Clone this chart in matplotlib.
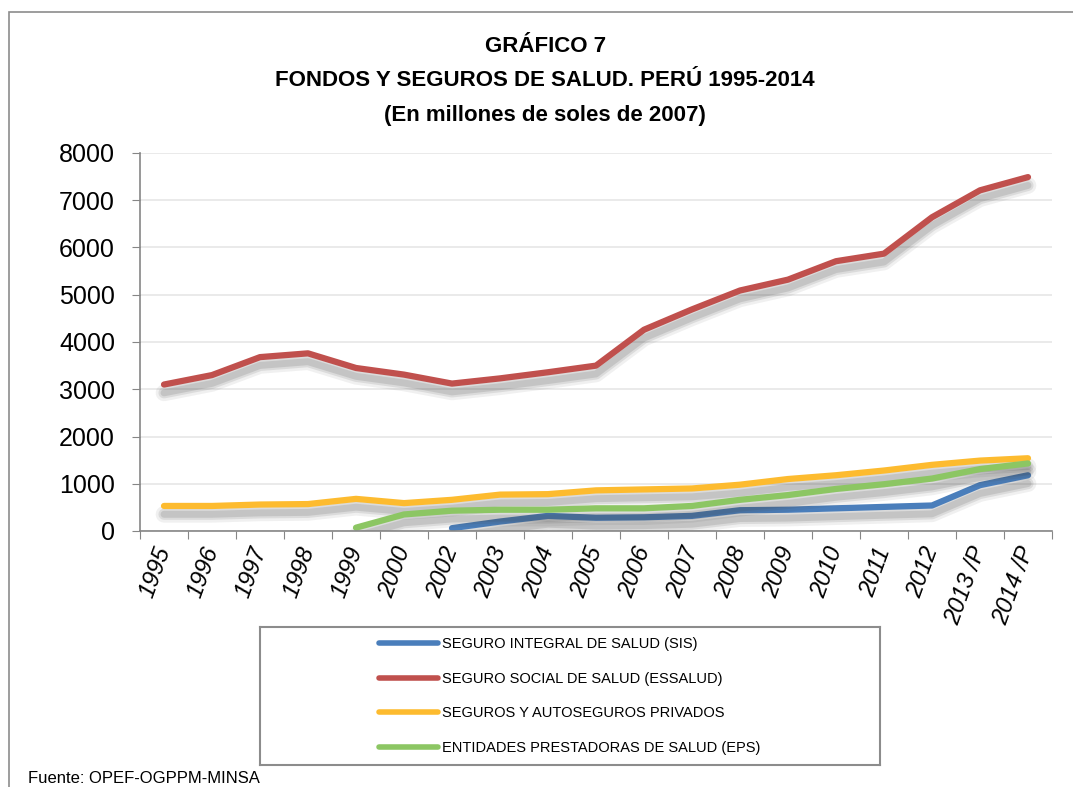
import matplotlib.pyplot as plt
import matplotlib.patheffects as pe
from matplotlib.patches import Rectangle
import numpy as np

plt.rcParams['font.family'] = ['Liberation Sans', 'DejaVu Sans']

# categorías (2001 no aparece en el gráfico)
anios = ['1995', '1996', '1997', '1998', '1999', '2000', '2002', '2003', '2004', '2005',
         '2006', '2007', '2008', '2009', '2010', '2011', '2012', '2013 /P', '2014 /P']

# series (millones de soles de 2007), None = sin dato
sis = [None, None, None, None, None, None, 60, 200, 320, 280,
       290, 320, 440, 450, 480, 510, 540, 970, 1180]
essalud = [3100, 3300, 3680, 3760, 3450, 3310, 3120, 3230, 3360, 3500,
           4260, 4690, 5090, 5320, 5710, 5870, 6640, 7210, 7490]
privados = [530, 530, 560, 570, 680, 590, 660, 770, 780, 860,
            880, 900, 980, 1100, 1180, 1280, 1400, 1490, 1540]
eps = [None, None, None, None, 70, 350, 430, 450, 450, 480,
       480, 530, 660, 760, 890, 990, 1110, 1310, 1430]

nombres = ['SEGURO INTEGRAL DE SALUD (SIS)', 'SEGURO SOCIAL DE SALUD (ESSALUD)',
           'SEGUROS Y AUTOSEGUROS PRIVADOS', 'ENTIDADES PRESTADORAS DE SALUD (EPS)']
colores = ['#4a7ebb', '#c0504d', '#fdbb2f', '#8cc663']

fig = plt.figure(figsize=(10.73, 7.87), dpi=100)

# marco exterior del gráfico
fig.patches.append(Rectangle((9 / 1073, -0.1), 1.2, (787 - 12) / 787 + 0.1,
                             transform=fig.transFigure, fill=False,
                             edgecolor='#8c8c8c', linewidth=1.2))

ax = fig.add_axes([140 / 1073, (787 - 531) / 787, 912 / 1073, 378 / 787])

x = np.arange(len(anios))
# sombra difusa debajo de las líneas
sombra = [pe.SimpleLineShadow(offset=(0, -6), shadow_color='#444444', alpha=0.08, linewidth=12),
          pe.SimpleLineShadow(offset=(0, -6), shadow_color='#444444', alpha=0.12, linewidth=8),
          pe.SimpleLineShadow(offset=(0, -6), shadow_color='#444444', alpha=0.15, linewidth=5),
          pe.Normal()]

lineas = []
for serie, nombre, color in zip([sis, essalud, privados, eps], nombres, colores):
    y = np.array([np.nan if v is None else v for v in serie], dtype=float)
    l, = ax.plot(x, y, color=color, linewidth=4.5, solid_capstyle='round',
                 solid_joinstyle='round', label=nombre, path_effects=sombra)
    lineas.append(l)

ax.set_xlim(-0.5, len(anios) - 0.5)
ax.set_ylim(0, 8000)
ax.set_yticks(range(0, 8001, 1000))
ax.yaxis.grid(True, color='#e6e6e6', linewidth=1.2)
ax.set_axisbelow(True)

# marcas del eje x entre categorías, etiquetas centradas
ax.set_xticks(list(x - 0.5) + [len(anios) - 0.5])
ax.set_xticklabels([])
ax.set_xticks(x, minor=True)
ax.set_xticklabels(anios, minor=True, rotation=70, fontsize=17, style='italic',
                   rotation_mode='anchor', ha='right', va='center')
ax.tick_params(axis='x', which='minor', length=0, pad=12)
ax.tick_params(axis='x', which='major', length=6, color='#868686')
ax.tick_params(axis='y', length=6, color='#868686', labelsize=18, pad=12)

for lado in ['top', 'right']:
    ax.spines[lado].set_visible(False)
for lado in ['left', 'bottom']:
    ax.spines[lado].set_color('#868686')
    ax.spines[lado].set_linewidth(1.2)

fig.text(0.508, 1 - 47 / 787, 'GRÁFICO 7', ha='center', va='center',
         fontsize=16, fontweight='bold')
fig.text(0.508, 1 - 81 / 787, 'FONDOS Y SEGUROS DE SALUD. PERÚ 1995-2014',
         ha='center', va='center', fontsize=16, fontweight='bold')
fig.text(0.508, 1 - 115 / 787, '(En millones de soles de 2007)',
         ha='center', va='center', fontsize=16, fontweight='bold')

# caja de la leyenda
ax_ley = fig.add_axes([260 / 1073, 1 - 765 / 787, 620 / 1073, 138 / 787])
ax_ley.set_xticks([])
ax_ley.set_yticks([])
for s in ax_ley.spines.values():
    s.set_color('#8c8c8c')
    s.set_linewidth(1.5)
leg = ax_ley.legend(lineas, nombres, loc='center', frameon=False, fontsize=10.5,
                    handlelength=4.0, handletextpad=0.3, labelspacing=1.4)
for linea in leg.get_lines():
    linea.set_linewidth(4)
    linea.set_path_effects([])

fig.text(28 / 1073, 1 / 787, 'Fuente: OPEF-OGPPM-MINSA', ha='left', va='bottom',
         fontsize=12)

fig.savefig('out.png', dpi=100)
